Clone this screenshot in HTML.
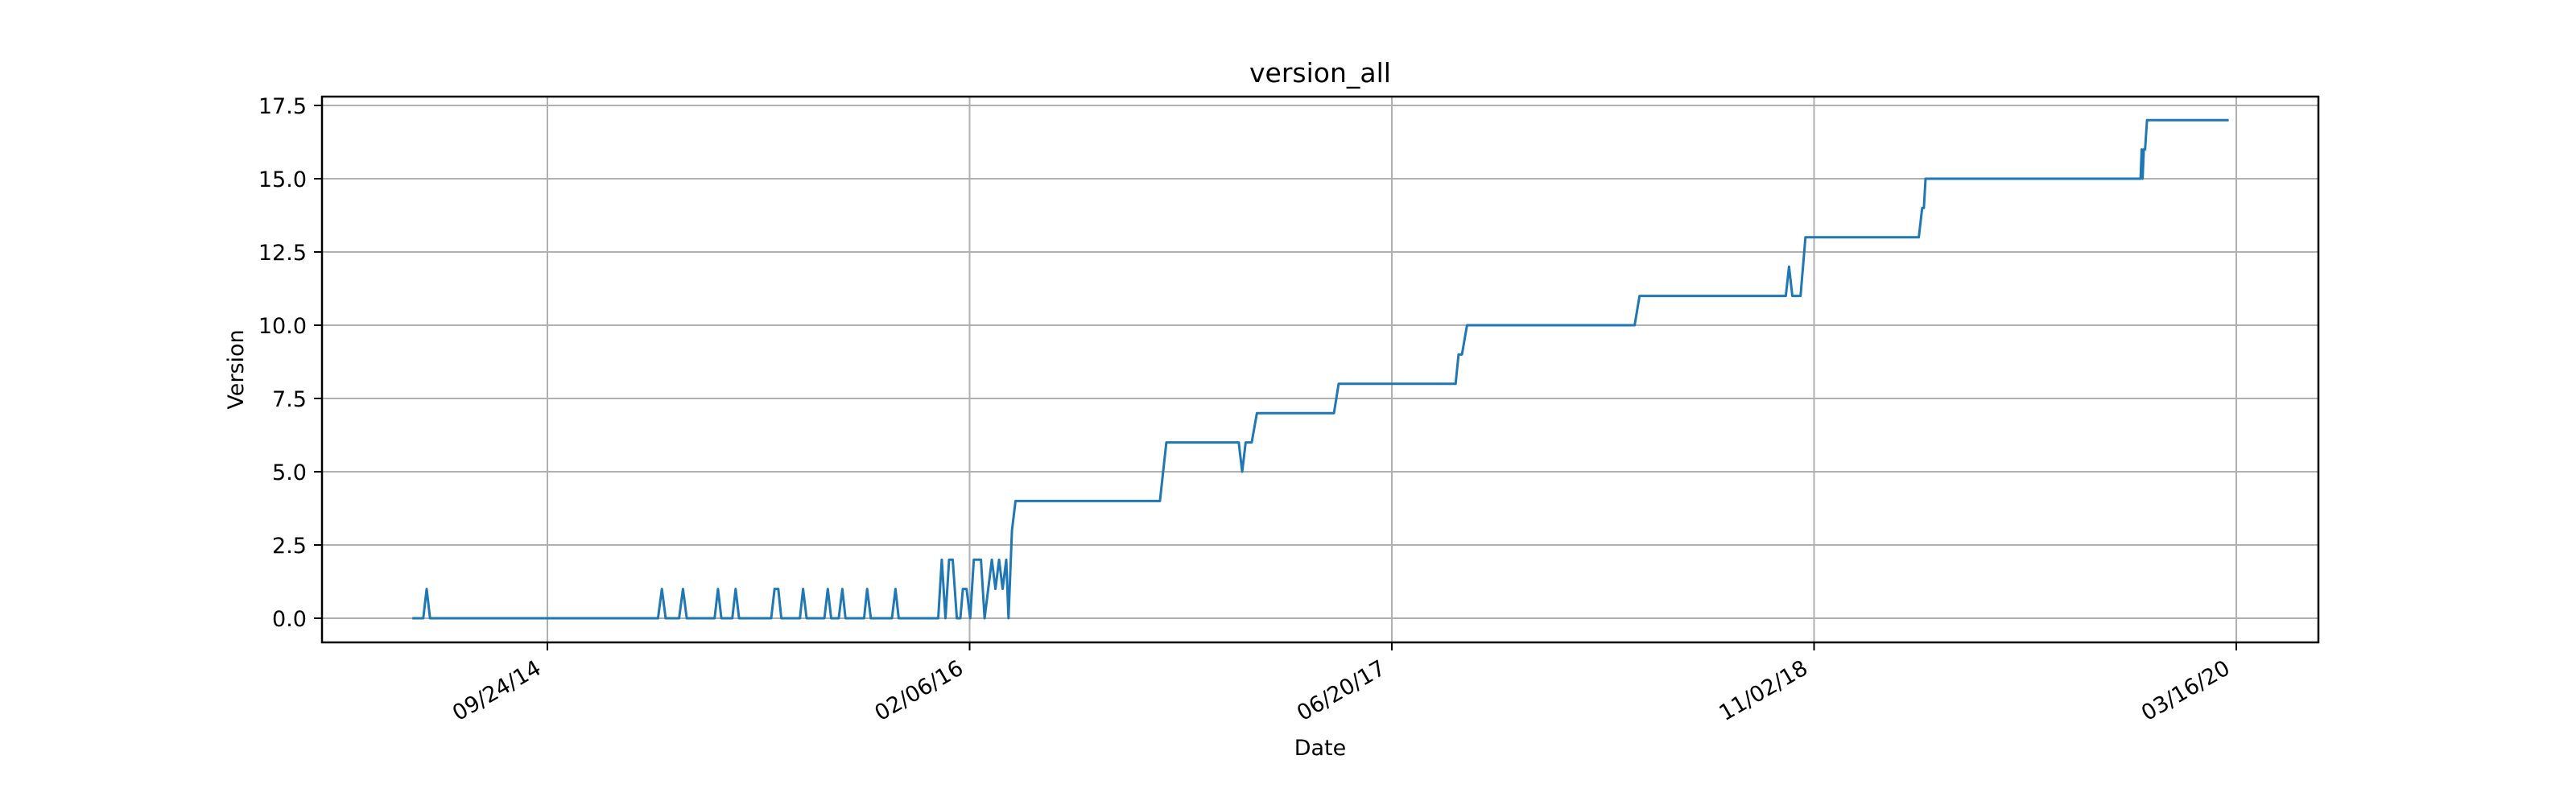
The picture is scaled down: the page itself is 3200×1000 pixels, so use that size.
<!DOCTYPE html>
<html><head><meta charset="utf-8"><style>
html,body{margin:0;padding:0;background:#fff;}
svg{display:block;}
text{font-family:"DejaVu Sans","Liberation Sans",sans-serif;fill:#000;}
</style></head><body>
<svg id="chart" width="3200" height="1000" viewBox="0 0 3200 1000" xmlns="http://www.w3.org/2000/svg">
<rect width="3200" height="1000" fill="#fff"/>
<g id="grid"></g>
<g id="series"></g>
<rect x="400" y="120" width="2480" height="678" fill="none" stroke="#000" stroke-width="2.5"/>
<g id="ticks"></g>
<text x="1640" y="102" font-size="33" text-anchor="middle">version_all</text>
<text x="1640" y="938" font-size="27" text-anchor="middle">Date</text>
<text x="0" y="0" font-size="27" text-anchor="middle" transform="translate(302,459) rotate(-90)">Version</text>
</svg>
<script>
// days relative to 09/24/14
const xTickDays = [0, 500, 1000, 1500, 2000];
const xTickLabels = ["09/24/14", "02/06/16", "06/20/17", "11/02/18", "03/16/20"];
const yTicks = [0, 2.5, 5, 7.5, 10, 12.5, 15, 17.5];
const yTickLabels = ["0.0", "2.5", "5.0", "7.5", "10.0", "12.5", "15.0", "17.5"];
const seriesDays = [-160,-147,-143,-139,131,135.6,140,156,160.5,165,198,202,206,219,222.9,227,265,269,273.4,277,299,302.8,307,328,332,336,345,349.3,353,375,378.6,383,408,412.2,416,462.8,467,471.4,475.7,480,484.8,489,492,496.4,500.7,505,513.4,517.7,526.3,530.6,534.9,539.1,543.4,546,550.1,554.3,725.4,733,818.7,822.8,826.9,834,840.2,931.5,937,1075.5,1079,1083,1089,1287.5,1293.3,1466.5,1470.4,1474.3,1484,1489.8,1624,1628,1630,1632,1886.7,1888,1889,1890.5,1892,1894.3,1991];
const seriesValues = [0,0,1,0,0,1,0,0,1,0,0,1,0,0,1,0,0,1,1,0,0,1,0,0,1,0,0,1,0,0,1,0,0,1,0,0,2,0,2,2,0,0,1,1,0,2,2,0,2,1,2,1,2,0,3,4,4,6,6,5,6,6,7,7,8,8,9,9,10,10,11,11,12,11,11,13,13,14,14,15,15,16,15,16,16,17,17];

const NS = "http://www.w3.org/2000/svg";
const X0 = 680, PXD = 1.049;
const Y0 = 768, PXV = 36.4;
function xs(d){ return X0 + d * PXD; }
function ys(v){ return Y0 - v * PXV; }
const grid = document.getElementById('grid');
const ticks = document.getElementById('ticks');
const series = document.getElementById('series');
function mk(tag, attrs, parent){
  const e = document.createElementNS(NS, tag);
  for (const k in attrs) e.setAttribute(k, attrs[k]);
  parent.appendChild(e);
  return e;
}
xTickDays.forEach((d, i) => {
  const x = xs(d);
  const g = mk('line', {x1:x, x2:x, y1:120, y2:798, stroke:'#b0b0b0', 'stroke-width':2}, grid);
  
  
  const t = mk('line', {x1:x, x2:x, y1:798, y2:808, stroke:'#000', 'stroke-width':2}, ticks);
  
  
  const lb = mk('text', {'font-size':27, 'text-anchor':'end', transform:`translate(${x-16},${818}) rotate(-30)`, y:20}, ticks);
  lb.textContent = xTickLabels[i];
  
  
});
yTicks.forEach((v, i) => {
  const y = ys(v);
  const g = mk('line', {x1:400, x2:2880, y1:y, y2:y, stroke:'#b0b0b0', 'stroke-width':2}, grid);
  
  
  const t = mk('line', {x1:390, x2:400, y1:y, y2:y, stroke:'#000', 'stroke-width':2}, ticks);
  
  
  const lb = mk('text', {x:381, y:y+10, 'font-size':27, 'text-anchor':'end'}, ticks);
  lb.textContent = yTickLabels[i];
  
  
});
const pts = seriesDays.map((d, i) => xs(d).toFixed(1) + ',' + ys(seriesValues[i]).toFixed(1)).join(' ');
const pl = mk('polyline', {points:pts, fill:'none', stroke:'#1f77b4', 'stroke-width':3, 'stroke-linejoin':'round'}, series);


</script>
</body></html>
